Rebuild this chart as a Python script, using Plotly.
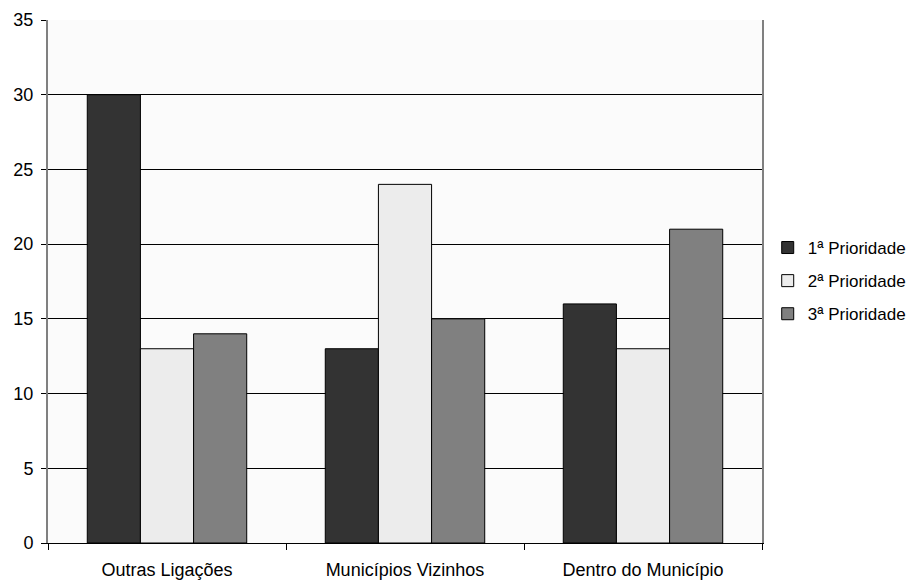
import plotly.graph_objects as go

categories = ["Outras Ligações", "Municípios Vizinhos", "Dentro do Município"]
series_names = ["1ª Prioridade", "2ª Prioridade", "3ª Prioridade"]
prio1 = [30, 13, 16]
prio2 = [13, 24, 13]
prio3 = [14, 15, 21]
colors = ["#333333", "#ececec", "#808080"]
y_ticks = [0, 5, 10, 15, 20, 25, 30, 35]

fig = go.Figure()
for i, (name, vals, col) in enumerate(zip(series_names, [prio1, prio2, prio3], colors)):
    fig.add_trace(go.Bar(x=categories, y=vals, name=name, legendgroup=f"g{i}",
                         marker=dict(color=col, line=dict(color="#000000", width=1))))

fig.update_layout(
    width=907, height=573,
    margin=dict(l=40, r=153, t=12, b=38, autoexpand=False),
    paper_bgcolor="white", plot_bgcolor="#fbfbfb",
    barmode="group", bargap=0.33, bargroupgap=0,
    font=dict(family="Liberation Sans, Arial, sans-serif", size=18, color="#000"),
    legend=dict(x=1.008, xanchor="left", y=0.501, yanchor="middle",
                bgcolor="rgba(0,0,0,0)",
                font=dict(size=17), tracegroupgap=8, itemwidth=30),
    showlegend=True,
)
fig.update_xaxes(showline=True, linecolor="#000", linewidth=1, mirror=False,
                 ticks="outside", tickson="boundaries", ticklen=6, tickcolor="#000",
                 tickfont=dict(size=18), showgrid=False, automargin=False,
                 ticklabelstandoff=10)
fig.update_yaxes(range=[0, 35], tickvals=y_ticks, showline=True, linecolor="#808080",
                 linewidth=2, mirror=True, ticks="outside", ticklen=5, tickcolor="#000",
                 showgrid=True, gridcolor="#000", gridwidth=1, zeroline=False,
                 tickfont=dict(size=18), automargin=False, ticklabelstandoff=4)
fig.write_html("out.html")
